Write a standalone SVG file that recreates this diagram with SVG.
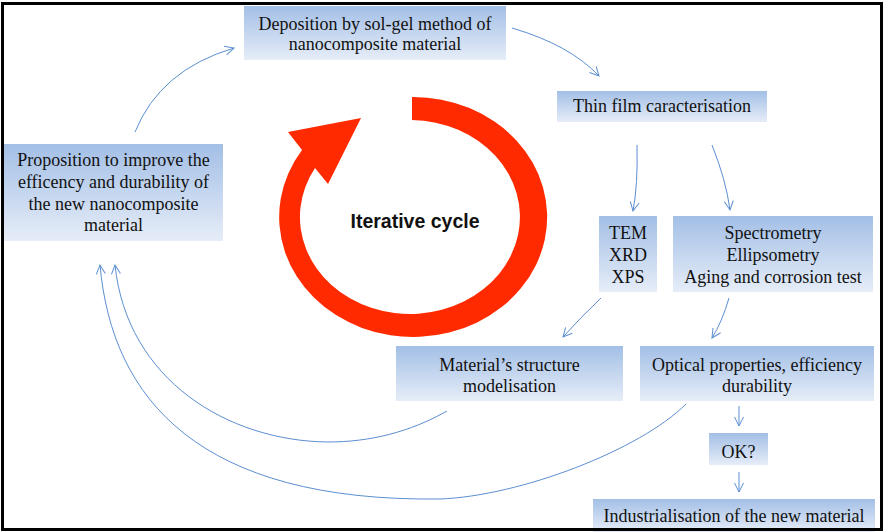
<svg xmlns="http://www.w3.org/2000/svg" width="885" height="532" viewBox="0 0 885 532">
<style>
.box{fill:url(#g)}
.t{font-family:"Liberation Serif","Times New Roman",serif;font-size:18px;fill:#111;text-anchor:middle}
.c{fill:none;stroke:#5b8fd0;stroke-width:1;marker-end:url(#arr)}
</style>
<defs>
<linearGradient id="g" x1="0" y1="0" x2="0" y2="1">
<stop offset="0" stop-color="#a3bfe6"/>
<stop offset="1" stop-color="#e6edf8"/>
</linearGradient>
<marker id="arr" viewBox="-10 -6 12 12" refX="0" refY="0" markerWidth="12" markerHeight="12" orient="auto" markerUnits="userSpaceOnUse">
<path d="M-9,-4.5 L0,0 L-9,4.5" fill="none" stroke="#5b8fd0" stroke-width="1"/>
</marker>
</defs>
<rect x="0" y="0" width="885" height="532" fill="#fff"/>
<g id="cycle">
<path d="M412,97 A134,120 0 1 1 302,150 L288,132 L361,118 L328,184 L315,168 A110,97 0 1 0 412,120 Z" fill="#ff2a00"/>
<text x="415" y="228" font-family="'Liberation Sans',Arial,sans-serif" font-weight="bold" font-size="19.5" text-anchor="middle" fill="#111">Iterative cycle</text>
</g>
<g id="connectors">
<path class="c" d="M135,132 Q160,70 234,48"/>
<path class="c" d="M512,28 Q570,45 599,76"/>
<path class="c" d="M637,145 Q638,185 633,211"/>
<path class="c" d="M712,145 Q726,180 730,210"/>
<path class="c" d="M601,298 Q580,318 563,337"/>
<path class="c" d="M729,298 Q722,322 712,338"/>
<path class="c" d="M739,406 L739,426"/>
<path class="c" d="M739,472 L739,492"/>
<path class="c" d="M447,411 C410,432 370,442 328,442 C228,441 127,380 115,265"/>
<path class="c" d="M686,404 C640,450 520,496 440,499 C200,502 112,400 100,265"/>
</g>
<g id="deposition">
<rect class="box" x="244" y="6" width="262" height="54"/>
<text class="t" x="375" y="30">Deposition by sol-gel method of</text>
<text class="t" x="375" y="50">nanocomposite material</text>
</g>
<g id="thinfilm">
<rect class="box" x="557" y="91" width="210" height="31"/>
<text class="t" x="662" y="112">Thin film caracterisation</text>
</g>
<g id="proposition">
<rect class="box" x="4" y="144" width="219" height="97"/>
<text class="t" x="113.5" y="166">Proposition to improve the</text>
<text class="t" x="113.5" y="188">efficency and durability of</text>
<text class="t" x="113.5" y="210">the new nanocomposite</text>
<text class="t" x="113.5" y="231">material</text>
</g>
<g id="tem">
<rect class="box" x="599" y="216" width="58" height="76"/>
<text class="t" x="628" y="239">TEM</text>
<text class="t" x="628" y="261">XRD</text>
<text class="t" x="628" y="283">XPS</text>
</g>
<g id="spectrometry">
<rect class="box" x="673" y="216" width="200" height="76"/>
<text class="t" x="773" y="239">Spectrometry</text>
<text class="t" x="773" y="261">Ellipsometry</text>
<text class="t" x="773" y="283">Aging and corrosion test</text>
</g>
<g id="structure">
<rect class="box" x="396" y="346" width="227" height="55"/>
<text class="t" x="509.5" y="371">Material’s structure</text>
<text class="t" x="509.5" y="392">modelisation</text>
</g>
<g id="optical">
<rect class="box" x="640" y="346" width="234" height="55"/>
<text class="t" x="757" y="371">Optical properties, efficiency</text>
<text class="t" x="757" y="392">durability</text>
</g>
<g id="ok">
<rect class="box" x="709" y="433" width="59" height="32"/>
<text class="t" x="738.5" y="458">OK?</text>
</g>
<g id="industrialisation">
<rect class="box" x="593" y="499" width="282" height="33"/>
<text class="t" x="734" y="522">Industrialisation of the new material</text>
</g>
<rect id="frame" x="2.5" y="3.5" width="879" height="526" fill="none" stroke="#000" stroke-width="3"/>
</svg>
